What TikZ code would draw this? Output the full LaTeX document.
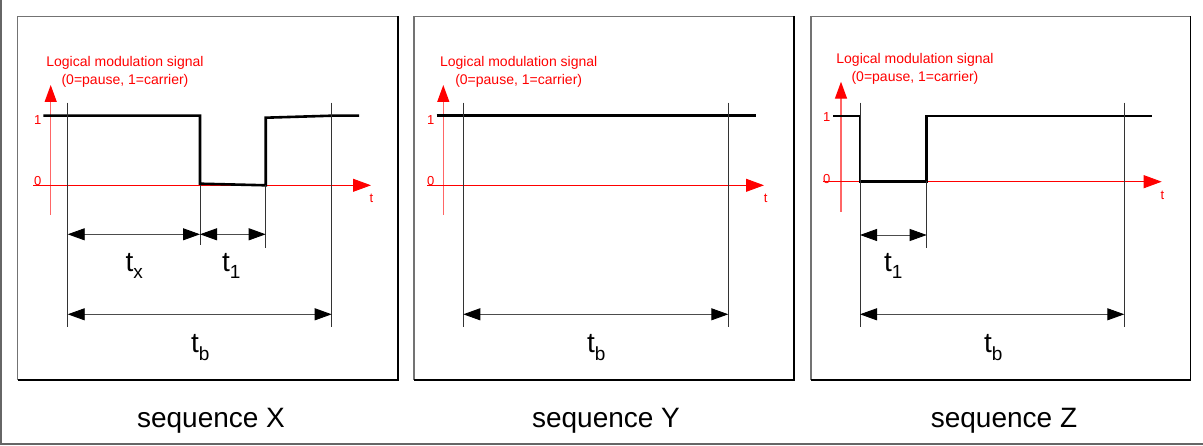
\documentclass[tikz,border=0pt]{standalone}
\usepackage{fontspec}
\setmainfont{Liberation Sans}
\usetikzlibrary{arrows.meta}
\definecolor{sigred}{RGB}{255,0,0}
\tikzset{
  boxgray/.style={draw=black!55, line width=1.4pt},
  boxblack/.style={draw=black, line width=1.4pt},
  outer/.style={draw=black!60, line width=1.6pt},
  yax/.style={draw=sigred!60, line width=1.3pt, -{Triangle[length=17pt,width=12pt,color=sigred]}},
  xax/.style={draw=sigred, line width=0.9pt, -{Triangle[length=18pt,width=13pt,color=sigred]}},
  sig/.style={draw=black, line width=2.6pt, line join=miter},
  refl/.style={draw=black!80, line width=0.9pt},
  dimarr/.style={draw=black!70, line width=0.9pt, {Triangle[length=17pt,width=12pt,color=black]}-{Triangle[length=17pt,width=12pt,color=black]}},
  ttl/.style={text=sigred, font=\fontsize{14}{17.5}\selectfont, align=center, inner sep=0pt},
  axlab/.style={text=sigred, font=\fontsize{13}{13}\selectfont, inner sep=0pt},
  tlab/.style={font=\fontsize{28}{28}\selectfont, inner sep=0pt, anchor=base west},
  seqlab/.style={font=\fontsize{28}{28}\selectfont, inner sep=0pt, anchor=base}
}
\newcommand{\subx}[1]{\raisebox{-7.5pt}{\fontsize{19}{19}\selectfont #1}}
\begin{document}
\begin{tikzpicture}[x=1pt,y=-1pt]
\useasboundingbox (0,0) rectangle (1203,446);
% outer frame (left and bottom only)
\coordinate (oTL) at (1,0);
\coordinate (oBL) at (1,444);
\coordinate (oBR) at (1203,444);
\draw[outer] (oTL) -- (oBL) -- (oBR);

% ================= Panel X =================
\coordinate (p1a) at (17.5,16.5);
\coordinate (p1b) at (398,380);
\draw[boxgray] (p1a|-p1b) -- (p1a) -- (p1b|-p1a);
\draw[boxblack] (p1b|-p1a) -- (p1b) -- (p1a|-p1b);
\node[ttl] (ttl1) at (125,72) {Logical modulation signal\\(0=pause, 1=carrier)};
\node[axlab] (one1) at (37.7,120) {1};
\node[axlab] (zero1) at (37.7,181.5) {0};
\node[axlab] (t1ax) at (371.5,198) {t};
\coordinate (y1s) at (50.7,215);
\coordinate (y1e) at (50.7,85);
\draw[yax] (y1s) -- (y1e);
\coordinate (x1s) at (33,185.3);
\coordinate (x1e) at (371,185.3);
\draw[xax] (x1s) -- (x1e);
\draw[sig] (43.3,115.7) -- (200,115.7) -- (200,183.7) -- (265.7,185.3) -- (265.7,117.7) -- (331.7,115.7) -- (359,115.7);
\coordinate (r1a) at (67.7,102.7);
\coordinate (r1b) at (67.7,326.7);
\coordinate (r1c) at (200,185);
\coordinate (r1d) at (200,245);
\coordinate (r1e) at (265.7,185);
\coordinate (r1f) at (265.7,248);
\coordinate (r1g) at (331.7,102.7);
\coordinate (r1h) at (331.7,326.7);
\draw[refl] (r1a) -- (r1b);
\draw[refl] (r1c) -- (r1d);
\draw[refl] (r1e) -- (r1f);
\draw[refl] (r1g) -- (r1h);
\coordinate (d1a) at (67.7,234.3);
\coordinate (d1b) at (200,234.3);
\coordinate (d1c) at (265.7,234.3);
\coordinate (d1d) at (67.7,314.3);
\coordinate (d1e) at (331.7,314.3);
\draw[dimarr] (d1a) -- (d1b);
\draw[dimarr] (d1b) -- (d1c);
\draw[dimarr] (d1d) -- (d1e);
\node[tlab] (tx1) at (125.5,271.5) {t\subx{x}};
\node[tlab] (tone1) at (222,271.5) {t\subx{1}};
\node[tlab] (tb1) at (191,353) {t\subx{b}};
\node[seqlab] (seqX) at (211,428) {sequence X};

% ================= Panel Y =================
\coordinate (p2a) at (414,16.5);
\coordinate (p2b) at (794,380);
\draw[boxgray] (p2a|-p2b) -- (p2a) -- (p2b|-p2a);
\draw[boxblack] (p2b|-p2a) -- (p2b) -- (p2a|-p2b);
\node[ttl] (ttl2) at (518.7,72) {Logical modulation signal\\(0=pause, 1=carrier)};
\node[axlab] (one2) at (430.7,120) {1};
\node[axlab] (zero2) at (430.7,181.5) {0};
\node[axlab] (t2ax) at (765.7,198) {t};
\coordinate (y2s) at (443.3,215);
\coordinate (y2e) at (443.3,85);
\draw[yax] (y2s) -- (y2e);
\coordinate (x2s) at (427,185.3);
\coordinate (x2e) at (764,185.3);
\draw[xax] (x2s) -- (x2e);
\draw[sig] (436.7,115.7) -- (755.7,115.7);
\coordinate (r2a) at (463.3,102.7);
\coordinate (r2b) at (463.3,326.7);
\coordinate (r2g) at (728.3,102.7);
\coordinate (r2h) at (728.3,326.7);
\draw[refl] (r2a) -- (r2b);
\draw[refl] (r2g) -- (r2h);
\coordinate (d2d) at (463.3,314.3);
\coordinate (d2e) at (728.3,314.3);
\draw[dimarr] (d2d) -- (d2e);
\node[tlab] (tb2) at (587,353) {t\subx{b}};
\node[seqlab] (seqY) at (606,428) {sequence Y};

% ================= Panel Z =================
\coordinate (p3a) at (811,16.5);
\coordinate (p3b) at (1190.7,380);
\draw[boxgray] (p3a|-p3b) -- (p3a) -- (p3b|-p3a);
\draw[boxblack] (p3b|-p3a) -- (p3b) -- (p3a|-p3b);
\node[ttl] (ttl3) at (915,69) {Logical modulation signal\\(0=pause, 1=carrier)};
\node[axlab] (one3) at (826.7,117) {1};
\node[axlab] (zero3) at (826.7,179) {0};
\node[axlab] (t3ax) at (1162.3,195) {t};
\coordinate (y3s) at (841,212);
\coordinate (y3e) at (841,81.7);
\draw[yax] (y3s) -- (y3e);
\coordinate (x3s) at (823,181.7);
\coordinate (x3e) at (1161.7,181.7);
\draw[xax] (x3s) -- (x3e);
\draw[sig] (833.3,116) -- (860,116) -- (860,181.7) -- (926.7,181.7) -- (926.7,116) -- (1151.7,116);
\coordinate (r3a) at (860,102.7);
\coordinate (r3b) at (860,326.7);
\coordinate (r3c) at (926.7,181);
\coordinate (r3d) at (926.7,248.3);
\coordinate (r3g) at (1124.3,102.7);
\coordinate (r3h) at (1124.3,326.7);
\draw[refl] (r3a) -- (r3b);
\draw[refl] (r3c) -- (r3d);
\draw[refl] (r3g) -- (r3h);
\coordinate (d3a) at (860,235);
\coordinate (d3b) at (926.7,235);
\coordinate (d3d) at (860,314.3);
\coordinate (d3e) at (1124.3,314.3);
\draw[dimarr] (d3a) -- (d3b);
\draw[dimarr] (d3d) -- (d3e);
\node[tlab] (tone3) at (884,271.5) {t\subx{1}};
\node[tlab] (tb3) at (984,353) {t\subx{b}};
\node[seqlab] (seqZ) at (1004,428) {sequence Z};
\end{tikzpicture}
\end{document}
